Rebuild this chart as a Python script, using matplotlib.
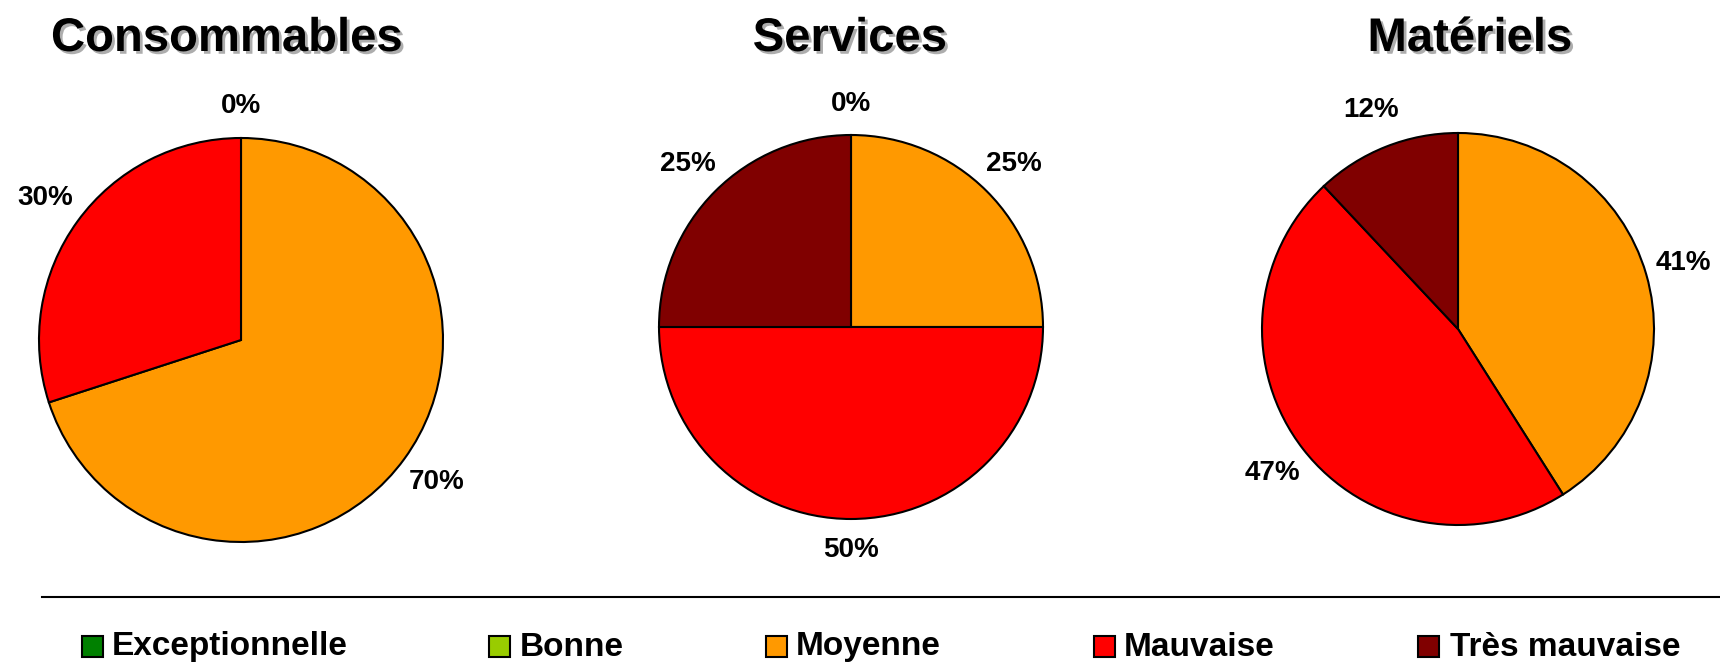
import matplotlib.pyplot as plt
import matplotlib.patheffects as pe
from matplotlib.patches import Rectangle
from matplotlib.lines import Line2D

plt.rcParams['font.family'] = ['Liberation Sans', 'DejaVu Sans']
plt.rcParams['font.weight'] = 'bold'

# Data
categories = ['Exceptionnelle', 'Bonne', 'Moyenne', 'Mauvaise', 'Très mauvaise']
colors = ['#008000', '#99CC00', '#FF9900', '#FF0000', '#800000']
titles = ['Consommables', 'Services', 'Matériels']
# None = category absent from that pie
consommables = [None, 0, 70, 30, None]
services = [None, 0, 25, 50, 25]
materiels = [None, None, 41, 47, 12]

W, H = 1720, 665
fig = plt.figure(figsize=(W / 100, H / 100), dpi=100)

# pie centres / radii in pixels, title x positions
pies = [(consommables, 241, 340, 202, 227),
        (services, 851, 327, 192, 850),
        (materiels, 1458, 329, 196, 1470)]

s = 1.35
for (vals, cx, cy, r, tx), title in zip(pies, titles):
    ax = fig.add_axes([(cx - s * r) / W, (H - cy - s * r) / H, 2 * s * r / W, 2 * s * r / H])
    v = [x for x in vals if x is not None]
    c = [col for x, col in zip(vals, colors) if x is not None]
    labels = ['%d%%' % x for x in v]
    wedges, texts = ax.pie(v, colors=c, labels=labels, startangle=90, counterclock=False,
                           labeldistance=1.2, wedgeprops=dict(edgecolor='black', linewidth=1.5),
                           textprops=dict(fontsize=20, fontweight='bold', ha='center', va='center'))
    for t in texts:
        t.set_horizontalalignment('center')
        x, y = t.get_position()
        # labels straight above/below sit a little closer to the pie
        if abs(x) < 0.1 * abs(y):
            t.set_position((x * 1.16 / 1.2, y * 1.16 / 1.2))
    ax.set_xlim(-s, s)
    ax.set_ylim(-s, s)
    ax.set_aspect('equal')
    ax.axis('off')
    fig.text(tx / W, 1 - 39 / H, title, fontsize=34, fontweight='bold', ha='center', va='center',
             path_effects=[pe.withSimplePatchShadow(offset=(2, -2), shadow_rgbFace='#999999', alpha=0.8)])

# separator line
fig.add_artist(Line2D([42 / W, 1.0], [1 - 597 / H, 1 - 597 / H], color='black', linewidth=1.5))

# legend
sq_x = [82, 489, 766, 1094, 1418]
txt_x = [112, 520, 796, 1124, 1450]
ly = H - 647
for name, col, sx, tx in zip(categories, colors, sq_x, txt_x):
    fig.add_artist(Rectangle((sx / W, (ly - 10) / H), 21 / W, 21 / H, facecolor=col,
                             edgecolor='black', linewidth=1.5, transform=fig.transFigure))
    fig.text(tx / W, ly / H, name, fontsize=24, fontweight='bold', ha='left', va='center')

fig.savefig('out.png', dpi=100)
